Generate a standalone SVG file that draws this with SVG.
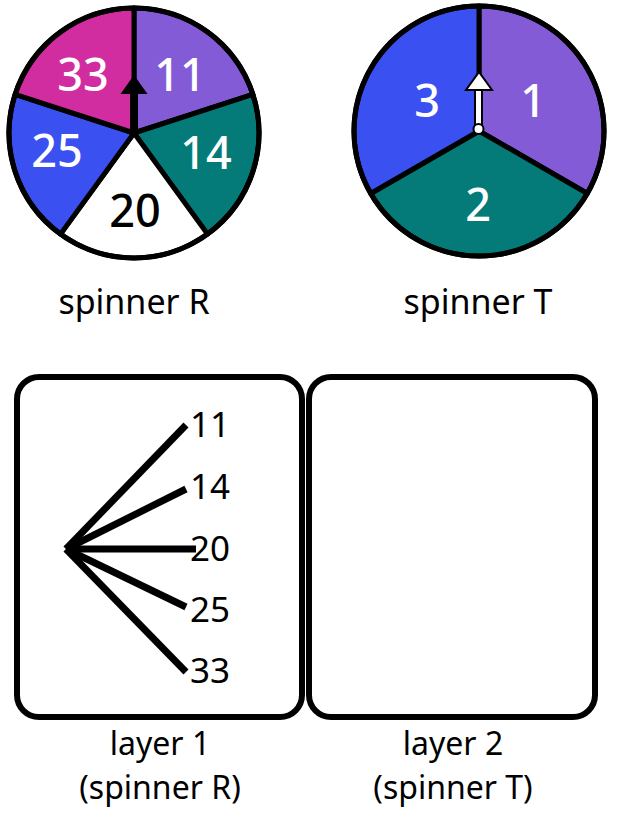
<svg xmlns="http://www.w3.org/2000/svg" width="617" height="821" viewBox="0 0 617 821">
<style>
text{font-family:"Noto Sans","Open Sans","DejaVu Sans",sans-serif;text-anchor:middle}
.big{font-size:45px;font-weight:500}
.w{fill:#ffffff}
.k{fill:#000000}
.cap{font-size:34px;fill:#000}
.cap2{font-size:32px;fill:#000}
.lab{font-size:35px;fill:#000;text-anchor:start}
.sec{stroke:#000;stroke-width:5;stroke-linejoin:round}
.box{fill:#fff;stroke:#000;stroke-width:6}
.br{stroke:#000;stroke-width:7;stroke-linecap:butt;fill:none}
</style>
<rect width="617" height="821" fill="#fff"/>
<g id="spinnerR">
<path class="sec" fill="#845bd6" d="M134,133 L134,8 A125,125 0 0 1 252.9,94.4 Z"/>
<path class="sec" fill="#057b79" d="M134,133 L252.9,94.4 A125,125 0 0 1 207.5,234.1 Z"/>
<path class="sec" fill="#ffffff" d="M134,133 L207.5,234.1 A125,125 0 0 1 60.5,234.1 Z"/>
<path class="sec" fill="#3a50f0" d="M134,133 L60.5,234.1 A125,125 0 0 1 15.1,94.4 Z"/>
<path class="sec" fill="#d12ca0" d="M134,133 L15.1,94.4 A125,125 0 0 1 134,8 Z"/>
<circle cx="134" cy="133" r="125" fill="none" stroke="#000" stroke-width="5"/>
<rect x="130" y="90" width="8" height="43" fill="#000"/>
<polygon points="120.5,94 147.5,94 134,75" fill="#000"/>
<text class="big w" x="180" y="91">11</text>
<text class="big w" x="206" y="169">14</text>
<text class="big k" x="135" y="227">20</text>
<text class="big w" x="57" y="167">25</text>
<text class="big w" x="83" y="91">33</text>
</g>
<g id="spinnerT">
<path class="sec" fill="#845bd6" d="M479,131 L479,6 A125,125 0 0 1 587.3,193.5 Z"/>
<path class="sec" fill="#057b79" d="M479,131 L587.3,193.5 A125,125 0 0 1 370.7,193.5 Z"/>
<path class="sec" fill="#3a50f0" d="M479,131 L370.7,193.5 A125,125 0 0 1 479,6 Z"/>
<circle cx="479" cy="131" r="125" fill="none" stroke="#000" stroke-width="5"/>
<rect x="475" y="88" width="7" height="38" fill="#fff" stroke="#000" stroke-width="2"/>
<polygon points="466,90 492,90 479,72" fill="#fff" stroke="#000" stroke-width="2" stroke-linejoin="miter"/>
<circle cx="478.5" cy="129" r="5" fill="#fff" stroke="#000" stroke-width="2"/>
<text class="big w" x="533" y="117">1</text>
<text class="big w" x="478" y="221">2</text>
<text class="big w" x="427" y="117">3</text>
</g>
<g id="captionR"><text class="cap" x="134" y="314">spinner R</text></g>
<g id="captionT"><text class="cap" x="478" y="314">spinner T</text></g>
<g id="layer1">
<rect class="box" x="17" y="377" width="285" height="340" rx="22"/>
<text class="lab" x="190" y="437">11</text>
<text class="lab" x="190" y="499">14</text>
<text class="lab" x="190" y="561">20</text>
<text class="lab" x="190" y="622">25</text>
<text class="lab" x="190" y="683">33</text>
</g>
<g id="layer2">
<rect class="box" x="309" y="377" width="286" height="340" rx="22"/>
</g>
<g id="connectors">
<line class="br" x1="66" y1="549" x2="186" y2="425"/>
<line class="br" x1="66" y1="549" x2="186" y2="489"/>
<line class="br" x1="66" y1="549" x2="196" y2="549"/>
<line class="br" x1="66" y1="549" x2="186" y2="607"/>
<line class="br" x1="66" y1="549" x2="186" y2="672"/>
</g>
<g id="labels">
<text class="cap2" x="160" y="755">layer 1</text>
<text class="cap2" x="160" y="799">(spinner R)</text>
<text class="cap2" x="453" y="755">layer 2</text>
<text class="cap2" x="453" y="799">(spinner T)</text>
</g>
</svg>
